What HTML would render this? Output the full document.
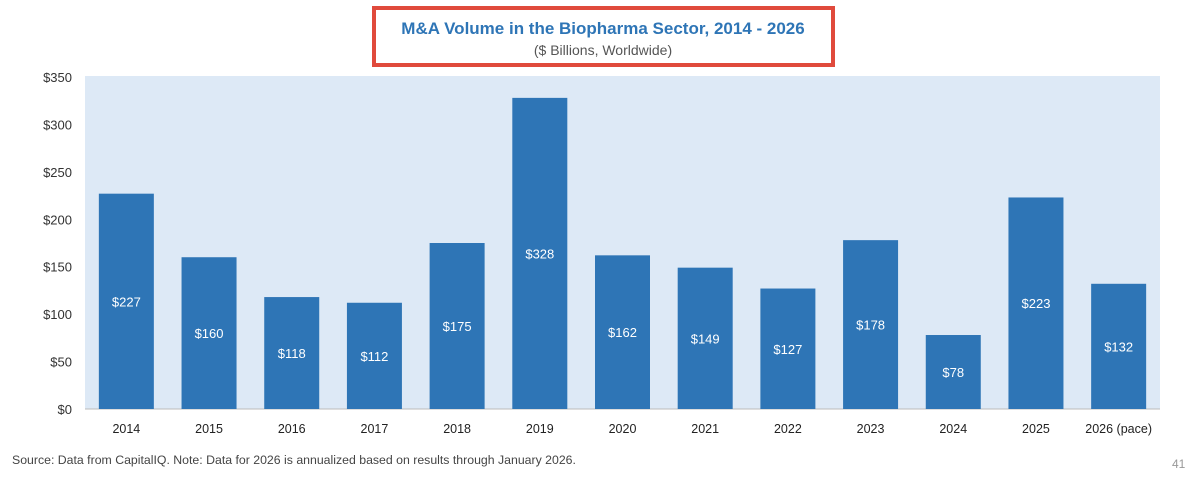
<!DOCTYPE html>
<html><head><meta charset="utf-8"><style>
body{margin:0;background:#fff;width:1199px;height:487px;overflow:hidden;font-family:"Liberation Sans",sans-serif}
</style></head><body>
<svg width="1199" height="487" id="c">
<rect x="374" y="8" width="459" height="57" fill="#fff" stroke="#e04a3c" stroke-width="4"/>
<text x="603" y="34" text-anchor="middle" fill="#2e75b6" font-size="17" font-weight="bold">M&amp;A Volume in the Biopharma Sector, 2014 - 2026</text>
<text x="603" y="55" text-anchor="middle" fill="#555" font-size="14">($ Billions, Worldwide)</text>
<rect x="85" y="76" width="1075" height="333" fill="#dde9f6"/>
<line x1="85" y1="409" x2="1160" y2="409" stroke="#bbb"/>
<g id="bars"></g>
<text x="12" y="464" fill="#444" font-size="12.3">Source: Data from CapitalIQ. Note: Data for 2026 is annualized based on results through January 2026.</text>
<text x="1172" y="468" fill="#999" font-size="12">41</text>
</svg>
<script>
const categories=["2014","2015","2016","2017","2018","2019","2020","2021","2022","2023","2024","2025","2026 (pace)"];
const values=[227,160,118,112,175,328,162,149,127,178,78,223,132];
const yTicks=[0,50,100,150,200,250,300,350];
const NS="http://www.w3.org/2000/svg";
const svg=document.getElementById('c'),g=document.getElementById('bars');
const x0=85,x1=1160,y0=409,y1=77,ymax=350;
const band=(x1-x0)/categories.length,bw=55;
function y(v){return y0-(v/ymax)*(y0-y1);}
function xc(i){return x0+band*(i+0.5);}
function mk(t,a){const e=document.createElementNS(NS,t);for(const k in a)e.setAttribute(k,a[k]);return e;}
yTicks.forEach(v=>{
 const t=mk('text',{x:72,y:y(v)+5,'text-anchor':'end','font-size':13,fill:'#333'});
 t.textContent='$'+v;
 
 
 svg.appendChild(t);
});
categories.forEach((c,i)=>{
 const v=values[i];
 const r=mk('rect',{x:xc(i)-bw/2,y:y(v),width:bw,height:y0-y(v),fill:'#2e75b6'});
 
 
 g.appendChild(r);
 const l=mk('text',{x:xc(i),y:(y(v)+y0)/2+5,'text-anchor':'middle','font-size':13,fill:'#fff'});
 l.textContent='$'+v;
 
 
 g.appendChild(l);
 const xl=mk('text',{x:xc(i),y:433,'text-anchor':'middle','font-size':12.5,fill:'#222'});
 xl.textContent=c;
 
 
 svg.appendChild(xl);
});
</script>
</body></html>
